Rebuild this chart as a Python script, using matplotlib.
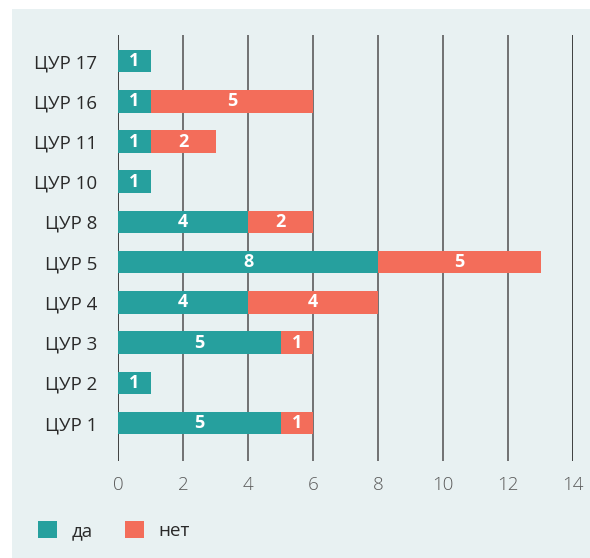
import matplotlib.pyplot as plt
from matplotlib.patches import Patch, Rectangle

categories = ["ЦУР 1", "ЦУР 2", "ЦУР 3", "ЦУР 4", "ЦУР 5",
              "ЦУР 8", "ЦУР 10", "ЦУР 11", "ЦУР 16", "ЦУР 17"]
yes_vals = [5, 1, 5, 4, 8, 4, 1, 1, 1, 1]
no_vals = [1, 0, 1, 4, 5, 2, 0, 2, 5, 0]
x_ticks = [0, 2, 4, 6, 8, 10, 12, 14]

TEAL = "#26a09e"
CORAL = "#f36d5a"
BG = "#e8f1f2"

plt.rcParams["font.family"] = ["Open Sans", "DejaVu Sans"]

fig = plt.figure(figsize=(5.90, 5.58), dpi=100, facecolor="white")
fig.patches.append(Rectangle((12 / 590, 0), 1, 1 - 9 / 558, transform=fig.transFigure,
                             facecolor=BG, edgecolor="none", zorder=-10))

ax = fig.add_axes([118 / 590, 1 - 461 / 558, (573 - 118) / 590, (461 - 35) / 558])
ax.set_facecolor("none")

ys = range(len(categories))
b1 = ax.barh(ys, yes_vals, height=0.56, color=TEAL, zorder=3)
b2 = ax.barh(ys, no_vals, left=yes_vals, height=0.56, color=CORAL, zorder=3)

for bars, vals in [(b1, yes_vals), (b2, no_vals)]:
    ax.bar_label(bars, labels=[str(v) if v else "" for v in vals], label_type="center",
                 color="white", fontsize=13, fontweight="bold")

ax.set_xlim(0, 14)
ax.set_ylim(-0.945, 9.65)
ax.set_xticks(x_ticks)
ax.set_yticks(list(ys))
ax.set_yticklabels(categories)
for s in ax.spines.values():
    s.set_visible(False)

ax.tick_params(axis="x", length=0, pad=11, labelsize=13.5, labelcolor="#5a5a5a")
ax.tick_params(axis="y", length=0, pad=15, labelsize=13.5, labelcolor="#2a2a2a")
for lbl in ax.get_xticklabels():
    lbl.set_fontweight("light")

for x in x_ticks:
    ax.axvline(x, color="#222222" if x in (0, 14) else "#5c5c5c", lw=1.2, zorder=1)

handles = [Patch(facecolor=TEAL, label="да"), Patch(facecolor=CORAL, label="нет")]
fig.legend(handles=handles, loc="center left", bbox_to_anchor=(38 / 590, 1 - 530.5 / 558),
           ncol=2, frameon=False, fontsize=13.5, handlelength=1.0, handleheight=1.0,
           handletextpad=0.8, columnspacing=1.7, borderpad=0, borderaxespad=0,
           labelcolor="#2a2a2a")

fig.savefig("out.png", dpi=100, facecolor="white")
